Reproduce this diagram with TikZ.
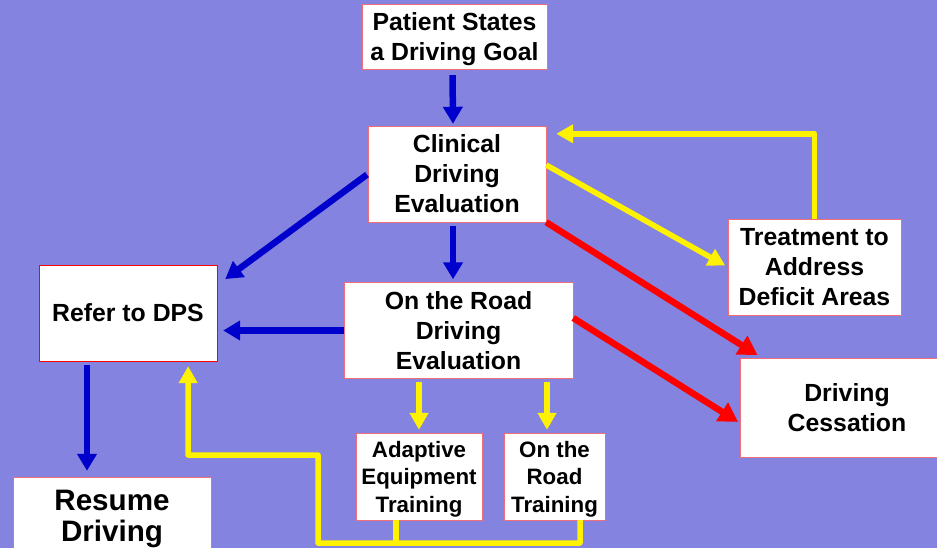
\documentclass[tikz,border=0pt]{standalone}
\usepackage{fontspec}
\setmainfont{Liberation Sans}
\usetikzlibrary{arrows.meta}
\definecolor{slide}{RGB}{132,132,224}
\definecolor{boxline}{RGB}{240,110,120}
\definecolor{darkblue}{RGB}{0,0,204}

\begin{document}
\begin{tikzpicture}[x=1pt, y=-1pt,
  box/.style = {draw=boxline, fill=white, align=center, inner sep=2pt, text depth=0pt, font=\fontsize{24.8}{30}\selectfont\bfseries},
  small/.style = {box, font=\fontsize{22.3}{27.5}\selectfont\bfseries},
  big/.style = {box, font=\fontsize{29.6}{30.5}\selectfont\bfseries},
  bluearr/.style = {draw=darkblue, line width=6.5pt, -{Triangle[length=17pt,width=19pt]}},
  yellowarr/.style = {draw=yellow, line width=5.5pt, line join=round, -{Triangle[length=17pt,width=18pt]}},
  redarr/.style = {draw=red, line width=6.5pt, -{Triangle[length=19pt,width=21pt]}}]
      \useasboundingbox (0,0) rectangle (937,548);
      \clip (0,0) rectangle (937,548);
      \fill[slide] (0,0) rectangle (937,548);
      \node[box, minimum width=185pt, minimum height=65pt] (1) at (454.5,36.5) {Patient States\\a Driving Goal};
      \node[box, minimum width=178pt, minimum height=96pt] (2) at (457,174) {Clinical\\Driving\\Evaluation};
      \node[box, draw=red, minimum width=178pt, minimum height=96pt] (3) at (128,313) {Refer to DPS};
      \node[box, minimum width=229pt, minimum height=96pt] (4) at (458.5,330.5) {On the Road\\Driving\\Evaluation};
      \node[box, minimum width=173pt, minimum height=96pt] (5) at (814.5,267) {Treatment to\\Address\\Deficit Areas};
      \node[box, minimum width=214pt, minimum height=99pt] (6) at (847,407.5) {Driving\\Cessation};
      \node[small, minimum width=126pt, minimum height=87pt] (7) at (419,476.5) {Adaptive\\Equipment\\Training};
      \node[small, minimum width=101pt, minimum height=87pt] (8) at (554.5,476.5) {On the\\Road\\Training};
      \node[big, minimum width=198pt, minimum height=78pt] (9) at (112,516) {Resume\\Driving};
      \coordinate (a) at (318,543);
      \coordinate (b) at (188,455);
      \path
      ([xshift=-2pt]1.south) edge[bluearr, shorten <=6pt, shorten >=2pt] ([xshift=-4pt]2.north)
      (2.west) edge[bluearr, shorten <=1pt, shorten >=10pt] ([yshift=28pt]3.east)
      ([xshift=-4pt]2.south) edge[bluearr, shorten <=4pt, shorten >=3pt] ([xshift=-5.5pt]4.north)
      (4.west) edge[bluearr, shorten >=6pt] (4.west -| 3.east)
      ([xshift=-41pt]3.south) edge[bluearr, shorten <=4pt, shorten >=6pt] ([xshift=-25pt]9.north)
      ([yshift=9pt]2.east) edge[yellowarr, shorten >=3pt] (5.west)
      (2.south east) edge[redarr, shorten >=5pt] ([xshift=22pt]6.north west)
      ([yshift=12.5pt]4.east) edge[redarr, shorten >=2pt] ([yshift=-15.5pt]6.west)
      (4.south -| 7.north) edge[yellowarr, shorten <=3pt, shorten >=3pt] (7.north)
      ([xshift=-7.5pt]8.north |- 4.south) edge[yellowarr, shorten <=3pt, shorten >=3pt] ([xshift=-7.5pt]8.north)
      ;
      \draw[yellowarr, shorten >=10pt] (5.north) |- ([yshift=-8pt]2.north east);
      \draw[yellow, line width=5.5pt] ([xshift=-23pt]7.south) -- ([xshift=-23pt]7.south |- a);
      \draw[yellowarr, shorten >=5pt] ([xshift=25.5pt]8.south) |- (a) |- (b) -- ([xshift=-29pt]3.south east);
    \end{tikzpicture}
\end{document}
